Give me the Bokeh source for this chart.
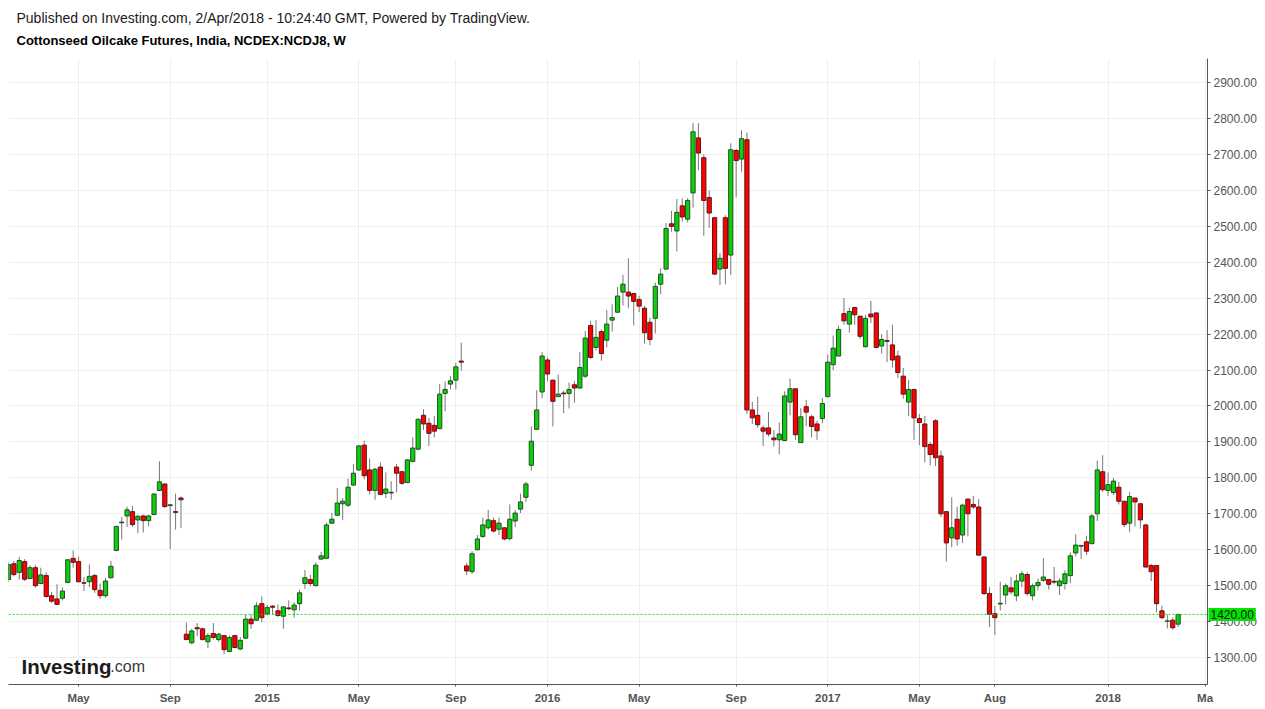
import numpy as np
import pandas as pd
from bokeh.plotting import figure
from bokeh.models import ColumnDataSource, Range1d, FixedTicker, NumeralTickFormatter, Span, Label
from bokeh.embed import file_html
from bokeh.resources import INLINE

# ---------------- data (weekly OHLC, NCDEX Cottonseed Oilcake) ----------------
first_week = "2014-02-03"

opens = [1517, 1561, 1537, 1567, 1520, 1550, 1506, 1528, 1472, 1463, 1465, 1509, 1576, 1567, 1508, 1511, 1528, 1487, 1472, 1522,
         1598, 1675, 1694, 1706, 1683, 1694, 1681, 1698, 1765, 1783, 1723, 1706, 1744, 1365, 1341, 1383, 1380, 1344, 1367, 1350,
         1361, 1317, 1361, 1324, 1354, 1407, 1404, 1450, 1422, 1443, 1430, 1415, 1438, 1433, 1450, 1506, 1517, 1500, 1574, 1576,
         1674, 1696, 1728, 1724, 1780, 1822, 1891, 1822, 1765, 1830, 1757, 1758, 1830, 1817, 1787, 1846, 1880, 1974, 1952, 1946,
         1937, 2035, 2061, 2072, 2125, 1555, 1539, 1600, 1637, 1661, 1681, 1657, 1661, 1631, 1680, 1713, 1746, 1835, 1935, 2039,
         2128, 2072, 2026, 2036, 2035, 2059, 2050, 2083, 2224, 2163, 2207, 2183, 2239, 2261, 2317, 2317, 2313, 2296, 2272, 2233,
         2244, 2339, 2381, 2507, 2487, 2557, 2520, 2593, 2746, 2691, 2580, 2524, 2381, 2524, 2420, 2711, 2687, 2741, 1989, 1974,
         1939, 1939, 1911, 1906, 1904, 2011, 2048, 1898, 1998, 1970, 1950, 1965, 2026, 2115, 2139, 2257, 2228, 2274, 2250, 2165,
         2256, 2259, 2167, 2182, 2170, 2139, 2083, 2011, 2046, 1965, 1950, 1893, 1959, 1861, 1706, 1633, 1685, 1641, 1741, 1726,
         1719, 1580, 1478, 1422, 1449, 1474, 1494, 1472, 1513, 1531, 1472, 1500, 1515, 1517, 1512, 1500, 1506, 1528, 1591, 1610,
         1622, 1617, 1700, 1817, 1765, 1759, 1774, 1735, 1674, 1744, 1728, 1669, 1556, 1556, 1430, 1401, 1404, 1393]
highs = [1565, 1569, 1580, 1574, 1557, 1557, 1550, 1537, 1483, 1504, 1496, 1574, 1598, 1581, 1524, 1559, 1533, 1506, 1522, 1569,
         1665, 1691, 1720, 1722, 1698, 1698, 1698, 1757, 1846, 1785, 1726, 1756, 1748, 1398, 1380, 1396, 1383, 1368, 1396, 1369,
         1363, 1361, 1363, 1357, 1419, 1420, 1454, 1470, 1446, 1446, 1448, 1443, 1459, 1454, 1489, 1544, 1530, 1565, 1594, 1676,
         1702, 1772, 1744, 1798, 1839, 1891, 1904, 1854, 1828, 1843, 1815, 1791, 1839, 1820, 1852, 1913, 1965, 1991, 1967, 1972,
         2061, 2068, 2083, 2120, 2176, 1563, 1596, 1641, 1689, 1711, 1689, 1689, 1663, 1726, 1711, 1756, 1789, 1943, 2044, 2150,
         2135, 2072, 2087, 2043, 2065, 2070, 2150, 2209, 2237, 2239, 2213, 2267, 2283, 2331, 2365, 2411, 2315, 2307, 2278, 2246,
         2343, 2383, 2509, 2543, 2576, 2578, 2578, 2787, 2787, 2700, 2600, 2526, 2426, 2531, 2731, 2715, 2767, 2761, 2011, 2026,
         1946, 1983, 1933, 1954, 2041, 2076, 2048, 1994, 2017, 1976, 1959, 2022, 2143, 2196, 2224, 2300, 2274, 2276, 2250, 2254,
         2293, 2259, 2200, 2211, 2226, 2154, 2106, 2072, 2046, 1978, 1972, 1900, 1963, 1876, 1706, 1746, 1720, 1728, 1741, 1750,
         1741, 1580, 1496, 1444, 1511, 1506, 1524, 1531, 1541, 1537, 1506, 1520, 1576, 1517, 1552, 1520, 1543, 1593, 1643, 1613,
         1639, 1700, 1848, 1863, 1815, 1800, 1789, 1735, 1761, 1744, 1728, 1672, 1561, 1557, 1444, 1420, 1411, 1422]
lows = [1510, 1526, 1517, 1513, 1518, 1494, 1504, 1467, 1452, 1446, 1459, 1507, 1550, 1509, 1485, 1496, 1480, 1463, 1467, 1520,
        1596, 1628, 1663, 1663, 1646, 1648, 1665, 1696, 1763, 1717, 1602, 1656, 1661, 1350, 1337, 1359, 1348, 1326, 1350, 1344,
        1309, 1315, 1326, 1320, 1352, 1380, 1402, 1398, 1417, 1419, 1413, 1380, 1431, 1411, 1431, 1491, 1498, 1498, 1572, 1574,
        1672, 1694, 1683, 1718, 1778, 1820, 1796, 1754, 1739, 1752, 1744, 1739, 1759, 1780, 1785, 1843, 1876, 1933, 1889, 1913,
        1935, 1985, 2046, 2046, 2098, 1530, 1533, 1598, 1633, 1656, 1648, 1641, 1626, 1626, 1663, 1702, 1733, 1820, 1935, 2022,
        2069, 1943, 2026, 1980, 1993, 2009, 2048, 2078, 2131, 2154, 2126, 2163, 2207, 2259, 2280, 2272, 2224, 2261, 2174, 2169,
        2202, 2311, 2380, 2485, 2430, 2513, 2511, 2552, 2656, 2474, 2496, 2365, 2337, 2339, 2365, 2581, 2652, 1978, 1950, 1939,
        1889, 1915, 1887, 1865, 1902, 1974, 1906, 1898, 1944, 1913, 1906, 1952, 2024, 2100, 2139, 2226, 2204, 2226, 2187, 2163,
        2231, 2161, 2146, 2122, 2107, 2078, 2020, 1972, 1906, 1891, 1843, 1835, 1833, 1691, 1567, 1607, 1611, 1619, 1637, 1713,
        1585, 1474, 1385, 1363, 1431, 1448, 1476, 1457, 1496, 1472, 1459, 1487, 1511, 1489, 1504, 1474, 1489, 1507, 1581, 1574,
        1585, 1615, 1680, 1761, 1750, 1752, 1726, 1663, 1650, 1665, 1659, 1550, 1513, 1426, 1407, 1381, 1378, 1385]
closes = [1559, 1531, 1570, 1518, 1550, 1500, 1530, 1470, 1457, 1448, 1485, 1572, 1565, 1511, 1507, 1526, 1489, 1472, 1513, 1554,
          1665, 1677, 1711, 1670, 1693, 1681, 1694, 1755, 1789, 1720, 1725, 1704, 1739, 1350, 1374, 1380, 1350, 1361, 1356, 1365,
          1322, 1356, 1328, 1348, 1407, 1394, 1444, 1411, 1439, 1440, 1417, 1441, 1436, 1446, 1480, 1522, 1506, 1557, 1583, 1669,
          1685, 1730, 1735, 1774, 1813, 1889, 1806, 1765, 1824, 1754, 1769, 1760, 1813, 1785, 1850, 1883, 1963, 1950, 1924, 1930,
          2033, 2046, 2070, 2109, 2122, 1541, 1589, 1630, 1669, 1683, 1652, 1674, 1630, 1685, 1702, 1733, 1783, 1902, 1989, 2139,
          2089, 2013, 2033, 2034, 2046, 2050, 2107, 2189, 2135, 2191, 2146, 2228, 2246, 2306, 2339, 2306, 2291, 2278, 2204, 2185,
          2333, 2367, 2494, 2500, 2539, 2526, 2572, 2763, 2704, 2572, 2537, 2367, 2411, 2383, 2713, 2683, 2744, 1989, 1967, 1948,
          1930, 1922, 1906, 1922, 2028, 2048, 1920, 1970, 1983, 1943, 1931, 2007, 2122, 2161, 2213, 2237, 2263, 2254, 2194, 2244,
          2248, 2163, 2185, 2180, 2128, 2093, 2033, 2046, 1967, 1954, 1887, 1865, 1856, 1700, 1619, 1661, 1630, 1724, 1700, 1719,
          1585, 1478, 1420, 1411, 1451, 1500, 1483, 1513, 1533, 1478, 1500, 1509, 1524, 1504, 1510, 1513, 1533, 1583, 1613, 1612,
          1596, 1694, 1822, 1767, 1781, 1791, 1735, 1670, 1748, 1733, 1683, 1552, 1539, 1450, 1411, 1402, 1383, 1420]

tick_months = ["2014-05-01", "2014-09-01", "2015-01-01", "2015-05-01", "2015-09-01", "2016-01-01",
               "2016-05-01", "2016-09-01", "2017-01-01", "2017-05-01", "2017-08-01", "2018-01-01", "2018-05-01"]
tick_labels = ["May", "Sep", "2015", "May", "Sep", "2016", "May", "Sep", "2017", "May", "Aug", "2018", "Ma"]
price_ticks = list(range(1300, 3000, 100))
last_price = 1420

# ---------------- derived ----------------
n = len(opens)
dates = pd.date_range(first_week, periods=n + 12, freq="7D")
xs = np.arange(n)
o = np.array(opens, float); c = np.array(closes, float)
h = np.array(highs, float); l = np.array(lows, float)
up = c >= o

def src(mask):
    return ColumnDataSource(dict(x=xs[mask], top=np.maximum(o, c)[mask], bottom=np.minimum(o, c)[mask],
                                 high=h[mask], low=l[mask]))

up_src, dn_src = src(up), src(~up)
tick_idx = [int(np.searchsorted(dates.values, np.datetime64(m))) for m in tick_months]

FONT = "Liberation Sans"
p = figure(width=1262, height=706, output_backend="svg", toolbar_location=None,
           x_range=Range1d(0, 222.45), y_range=Range1d(1225, 2967),
           y_axis_location="right", min_border_left=8, min_border_right=55,
           min_border_top=58, min_border_bottom=21)
p.outline_line_color = None
p.background_fill_color = "white"
p.border_fill_color = "white"

# grid
p.xgrid.ticker = FixedTicker(ticks=tick_idx)
p.ygrid.ticker = FixedTicker(ticks=price_ticks)
p.xgrid.grid_line_color = "#efefef"
p.ygrid.grid_line_color = "#efefef"

# axes
p.xaxis.ticker = FixedTicker(ticks=tick_idx)
p.xaxis.major_label_overrides = {i: t for i, t in zip(tick_idx, tick_labels)}
p.yaxis.ticker = FixedTicker(ticks=price_ticks)
p.yaxis.formatter = NumeralTickFormatter(format="0.00")
for ax in (p.xaxis, p.yaxis):
    ax.axis_line_color = "#555555"
    ax.major_tick_line_color = "#555555"
    ax.minor_tick_line_color = None
    ax.major_tick_in = 0
    ax.major_label_text_color = "#555555"
    ax.major_label_text_font = FONT
p.xaxis.major_tick_out = 2
p.xaxis.major_label_standoff = 5
p.xaxis.major_label_text_font_size = "11.5px"
p.xaxis.major_label_text_font_style = "bold"
p.yaxis.major_tick_out = 3
p.yaxis.major_label_standoff = 3
p.yaxis.major_label_text_font_size = "12px"

# candles
for s, fill, edge in ((up_src, "#0dcf0d", "#1f4f1f"), (dn_src, "#ff0000", "#5e1414")):
    p.segment(x0="x", y0="low", x1="x", y1="high", source=s, line_color="#777777", line_width=1)
    p.vbar(x="x", width=0.78, top="top", bottom="bottom", source=s,
           fill_color=fill, line_color=edge, line_width=1)

# last price line & label (label hosted in the top panel so it is not clipped to the frame;
# it is still positioned with the data scales)
p.add_layout(Span(location=last_price, dimension="width", line_color="#00e000",
                  line_dash="2 2", line_width=1))
p.add_layout(Label(x=222.63, y=last_price, text=f"{last_price:.2f}",
                   text_baseline="middle", text_align="left", text_font=FONT, text_font_size="12px",
                   text_color="#111111", background_fill_color="#00e600", padding=2), "above")

# header texts (in the top panel)
p.add_layout(Label(x=1.484, y=3080.9,
                   text="Published on Investing.com, 2/Apr/2018 - 10:24:40 GMT, Powered by TradingView.",
                   text_baseline="middle", text_font=FONT, text_font_size="14px", text_color="#1a1a1a"), "above")
p.add_layout(Label(x=1.484, y=3017.0, text="Cottonseed Oilcake Futures, India, NCDEX:NCDJ8, W",
                   text_baseline="middle", text_font=FONT, text_font_size="13px", text_font_style="bold",
                   text_color="#000000"), "above")

# watermark logo
p.add_layout(Label(x=2.4, y=1276, text="Investing", text_baseline="alphabetic", text_font=FONT,
                   text_font_size="20.5px", text_font_style="bold", text_color="#1c1c1c"))
p.add_layout(Label(x=18.9, y=1276, text=".com", text_baseline="alphabetic", text_font=FONT,
                   text_font_size="16px", text_color="#3a3a3a"))

open("out.html", "w").write(file_html(p, INLINE))
